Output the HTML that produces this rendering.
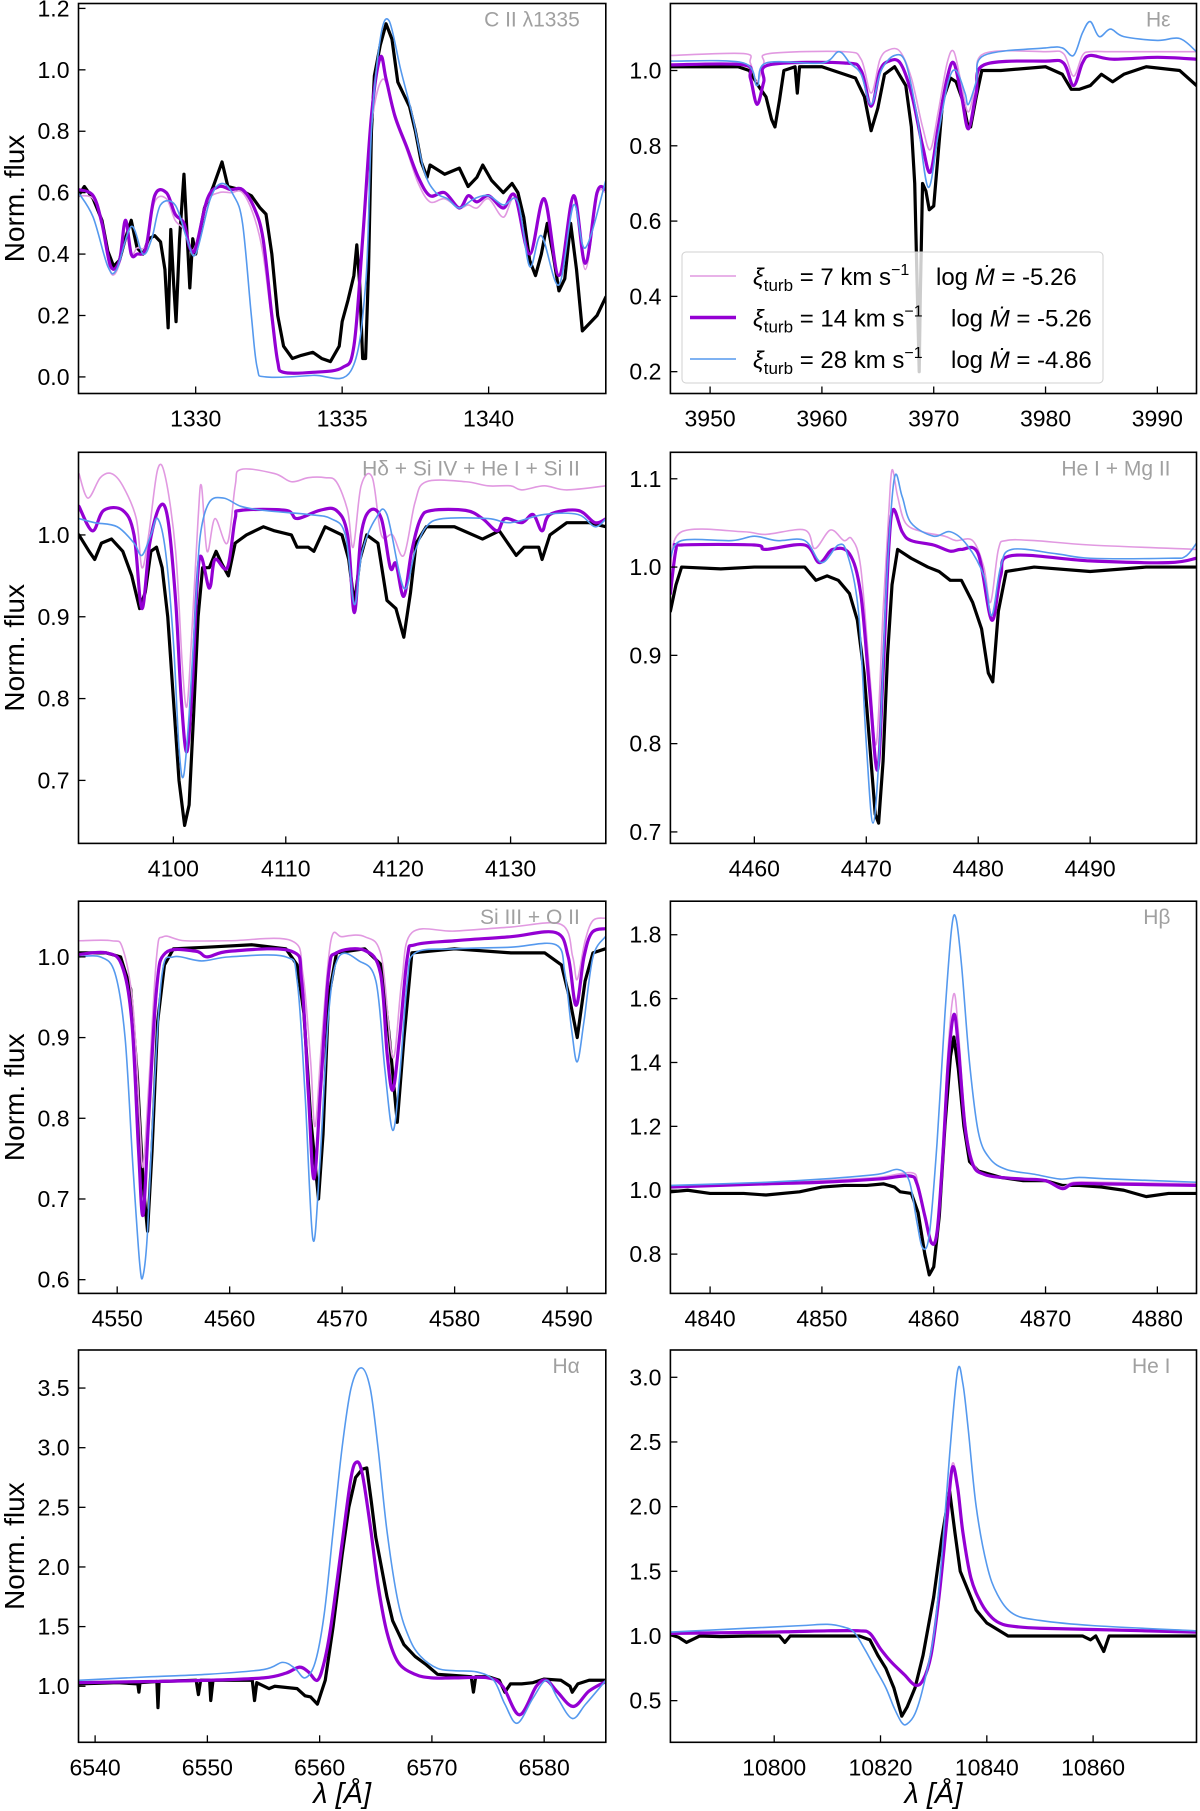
<!DOCTYPE html>
<html><head><meta charset="utf-8">
<style>
html,body{margin:0;padding:0;background:#fff;}
svg{display:block;font-family:"Liberation Sans","DejaVu Sans",sans-serif;}
</style></head>
<body>
<svg id="fig" width="1200" height="1811" viewBox="0 0 1200 1811" xmlns="http://www.w3.org/2000/svg"></svg>
<script>
// ---------- Panel 1: C II 1335 ----------
const ciiTicksX = [1330,1335,1340];
const ciiTicksY = [0.0,0.2,0.4,0.6,0.8,1.0,1.2];
const ciiObs = [[1326.0,0.59],[1326.2,0.62],[1326.5,0.58],[1326.8,0.51],[1327.0,0.41],[1327.2,0.36],[1327.4,0.38],[1327.6,0.45],[1327.8,0.51],[1328.0,0.42],[1328.2,0.40],[1328.4,0.45],[1328.6,0.46],[1328.8,0.44],[1328.95,0.35],[1329.06,0.16],[1329.15,0.48],[1329.25,0.30],[1329.33,0.18],[1329.45,0.45],[1329.6,0.66],[1329.8,0.29],[1329.9,0.45],[1330.0,0.40],[1330.3,0.55],[1330.6,0.62],[1330.9,0.70],[1331.1,0.62],[1331.5,0.61],[1331.9,0.59],[1332.2,0.55],[1332.4,0.53],[1332.6,0.40],[1332.8,0.20],[1333.0,0.10],[1333.3,0.06],[1333.6,0.07],[1334.0,0.08],[1334.3,0.06],[1334.6,0.05],[1334.9,0.10],[1335.0,0.18],[1335.2,0.25],[1335.4,0.33],[1335.5,0.43],[1335.6,0.30],[1335.7,0.06],[1335.8,0.06],[1335.9,0.35],[1336.0,0.80],[1336.1,0.98],[1336.3,1.08],[1336.5,1.15],[1336.7,1.10],[1336.9,0.96],[1337.1,0.92],[1337.3,0.88],[1337.5,0.80],[1337.7,0.70],[1337.9,0.65],[1338.0,0.69],[1338.5,0.66],[1339.0,0.68],[1339.3,0.62],[1339.6,0.65],[1339.8,0.69],[1340.1,0.64],[1340.5,0.60],[1340.8,0.63],[1341.0,0.60],[1341.2,0.52],[1341.4,0.38],[1341.6,0.33],[1341.8,0.40],[1342.0,0.50],[1342.2,0.40],[1342.4,0.28],[1342.6,0.32],[1342.8,0.50],[1343.0,0.35],[1343.2,0.15],[1343.4,0.17],[1343.7,0.20],[1344.0,0.26]];
const ciiPink = [[1326.0,0.59],[1326.5,0.58],[1326.8,0.50],[1327.1,0.34],[1327.4,0.37],[1327.6,0.50],[1327.8,0.40],[1328.0,0.42],[1328.3,0.43],[1328.6,0.57],[1329.0,0.58],[1329.3,0.51],[1329.6,0.48],[1329.8,0.42],[1330.0,0.43],[1330.4,0.57],[1330.8,0.60],[1331.2,0.60],[1331.6,0.60],[1332.0,0.52],[1332.3,0.40],[1332.6,0.18],[1332.8,0.05],[1333.0,0.015],[1334.0,0.015],[1335.0,0.03],[1335.4,0.10],[1335.7,0.45],[1336.0,0.82],[1336.4,0.97],[1336.8,0.84],[1337.2,0.74],[1337.6,0.63],[1338.0,0.57],[1338.5,0.58],[1339.0,0.55],[1339.3,0.56],[1339.6,0.55],[1340.0,0.58],[1340.5,0.52],[1340.9,0.58],[1341.4,0.40],[1341.9,0.58],[1342.4,0.33],[1342.9,0.59],[1343.3,0.35],[1343.7,0.59],[1344.0,0.60]];
const ciiPurple = [[1326.0,0.61],[1326.5,0.59],[1326.8,0.50],[1327.1,0.36],[1327.4,0.38],[1327.6,0.51],[1327.8,0.40],[1328.0,0.40],[1328.3,0.42],[1328.6,0.59],[1329.0,0.60],[1329.3,0.53],[1329.6,0.50],[1329.8,0.42],[1330.0,0.42],[1330.4,0.58],[1330.8,0.62],[1331.2,0.61],[1331.6,0.61],[1332.0,0.55],[1332.3,0.45],[1332.6,0.20],[1332.8,0.05],[1333.0,0.015],[1334.0,0.015],[1335.0,0.03],[1335.4,0.10],[1335.7,0.45],[1336.0,0.85],[1336.3,1.04],[1336.5,0.97],[1336.8,0.85],[1337.2,0.75],[1337.6,0.65],[1338.0,0.59],[1338.5,0.60],[1339.0,0.55],[1339.3,0.59],[1339.6,0.57],[1340.0,0.59],[1340.5,0.55],[1340.9,0.59],[1341.4,0.40],[1341.9,0.58],[1342.4,0.33],[1342.9,0.59],[1343.3,0.37],[1343.7,0.60],[1344.0,0.61]];
const ciiBlue = [[1326.0,0.60],[1326.5,0.52],[1327.0,0.36],[1327.3,0.35],[1327.8,0.49],[1328.2,0.40],[1328.5,0.45],[1328.8,0.56],[1329.3,0.56],[1329.7,0.45],[1330.0,0.40],[1330.5,0.58],[1330.9,0.63],[1331.3,0.59],[1331.6,0.50],[1331.9,0.20],[1332.1,0.03],[1332.4,0.0],[1334.0,0.005],[1335.3,0.02],[1335.8,0.30],[1336.0,0.80],[1336.3,1.10],[1336.6,1.16],[1337.0,1.00],[1337.4,0.85],[1337.8,0.67],[1338.2,0.60],[1338.6,0.58],[1339.0,0.55],[1339.5,0.58],[1340.0,0.59],[1340.5,0.56],[1341.0,0.57],[1341.4,0.36],[1341.8,0.46],[1342.4,0.30],[1342.9,0.56],[1343.3,0.42],[1344.0,0.64]];

// ---------- Panel 2: H epsilon ----------
const heTicksX = [3950,3960,3970,3980,3990];
const heTicksY = [0.2,0.4,0.6,0.8,1.0];
const heObs = [[3946.5,1.01],[3952.5,1.01],[3953.5,1.0],[3954.3,0.96],[3955.0,0.93],[3955.5,0.87],[3955.8,0.85],[3956.2,0.92],[3956.6,1.0],[3957.6,1.01],[3957.8,0.94],[3958.0,1.01],[3960,1.01],[3962,0.99],[3963.0,0.98],[3963.8,0.93],[3964.4,0.84],[3965.0,0.90],[3965.6,0.99],[3966.5,1.01],[3967.5,0.96],[3968.0,0.85],[3968.3,0.70],[3968.5,0.45],[3968.7,0.20],[3968.8,0.40],[3969.0,0.70],[3969.3,0.68],[3969.6,0.63],[3970.0,0.64],[3970.4,0.78],[3970.8,0.92],[3971.5,0.98],[3972.0,0.97],[3972.6,0.92],[3973.0,0.86],[3973.3,0.85],[3973.8,0.93],[3974.3,1.0],[3976,1.0],[3980,1.01],[3981.5,0.99],[3982.3,0.95],[3983.0,0.95],[3984,0.96],[3985,0.99],[3986,0.97],[3987,0.99],[3989,1.01],[3992,1.0],[3993.5,0.96]];
const hePink = [[3946.5,1.04],[3953,1.045],[3953.6,1.02],[3954.2,0.97],[3954.8,1.02],[3955.3,1.045],[3962,1.05],[3963.5,1.03],[3964.4,0.94],[3965.2,1.03],[3966,1.055],[3967,1.05],[3968,0.98],[3969,0.85],[3969.7,0.79],[3970.4,0.89],[3971.2,1.02],[3971.8,1.05],[3972.5,0.96],[3973.1,0.89],[3973.8,0.97],[3974.5,1.045],[3980,1.05],[3981.6,1.045],[3982.5,0.985],[3983.3,1.04],[3984,1.05],[3986,1.05],[3990,1.05],[3993.5,1.05]];
const hePurple = [[3946.5,1.015],[3953,1.015],[3953.6,0.98],[3954.2,0.91],[3954.8,0.97],[3955.3,1.015],[3962,1.02],[3963.5,1.0],[3964.4,0.905],[3965.2,1.0],[3966,1.025],[3967,1.02],[3968,0.94],[3969,0.80],[3969.7,0.73],[3970.4,0.85],[3971.2,0.98],[3971.8,1.02],[3972.5,0.93],[3973.1,0.845],[3973.8,0.94],[3974.5,1.015],[3980,1.025],[3981.6,1.02],[3982.5,0.96],[3983.3,1.02],[3984,1.04],[3986,1.03],[3990,1.035],[3993.5,1.03]];
const heBlue = [[3946.5,1.025],[3953,1.02],[3954.2,0.96],[3955,1.02],[3960,1.02],[3961.5,1.05],[3962.5,1.02],[3963.5,0.99],[3964.4,0.91],[3965.3,1.0],[3966.5,1.04],[3967.5,1.02],[3968.5,0.88],[3969.5,0.69],[3970.4,0.83],[3971.3,0.97],[3972,1.0],[3972.8,0.94],[3973.1,0.91],[3973.8,0.97],[3974.5,1.04],[3980,1.06],[3981.5,1.06],[3982.5,1.04],[3983.3,1.10],[3984.0,1.13],[3984.8,1.09],[3985.8,1.11],[3987,1.09],[3990,1.08],[3992,1.085],[3993.5,1.05]];

// ---------- Panel 3: H delta ----------
const hdTicksX = [4100,4110,4120,4130];
const hdTicksY = [0.7,0.8,0.9,1.0];
const hdObs = [[4091.6,1.0],[4092.5,0.98],[4093.0,0.97],[4093.6,0.99],[4094.5,0.995],[4095.5,0.98],[4096.3,0.95],[4097.0,0.91],[4097.5,0.93],[4098.0,0.98],[4098.5,0.985],[4099.0,0.96],[4099.5,0.90],[4100.0,0.80],[4100.5,0.70],[4101.0,0.645],[4101.4,0.67],[4101.8,0.78],[4102.2,0.90],[4102.6,0.96],[4103.2,0.96],[4103.8,0.98],[4104.3,0.965],[4104.9,0.95],[4105.5,0.99],[4106.5,1.0],[4108,1.01],[4109,1.005],[4110.5,1.0],[4111,0.985],[4112,0.985],[4112.5,0.98],[4113.5,1.01],[4115,1.0],[4115.6,0.97],[4116.1,0.915],[4116.6,0.97],[4117.2,1.0],[4118.2,0.99],[4119,0.92],[4119.8,0.91],[4120.5,0.875],[4121.1,0.93],[4121.6,0.99],[4122.5,1.01],[4125,1.01],[4127.5,0.995],[4129,1.005],[4130.5,0.975],[4131.2,0.985],[4132.5,0.985],[4132.8,0.97],[4133.5,1.0],[4135,1.015],[4137,1.015],[4138.5,1.01]];
const hdPink = [[4091.6,1.075],[4092.4,1.045],[4093.5,1.07],[4094.5,1.075],[4095.5,1.06],[4096.7,1.02],[4097.2,0.96],[4097.8,1.0],[4098.6,1.08],[4099.3,1.07],[4100.2,0.98],[4100.8,0.84],[4101.2,0.79],[4101.6,0.87],[4102.2,1.02],[4102.5,1.06],[4103.0,0.98],[4103.7,1.02],[4104.8,0.99],[4105.5,1.06],[4106.0,1.08],[4109,1.075],[4110.5,1.065],[4112,1.07],[4113.5,1.07],[4114.5,1.065],[4115.5,1.03],[4116.0,0.985],[4116.7,1.06],[4117.7,1.07],[4118.5,1.0],[4119.5,1.0],[4120.5,0.975],[4121.5,1.04],[4122.5,1.065],[4126,1.065],[4128,1.06],[4130,1.06],[4131,1.055],[4133,1.06],[4135,1.055],[4138.5,1.06]];
const hdPurple = [[4091.6,1.035],[4092.8,1.005],[4093.8,1.03],[4095.5,1.03],[4096.5,1.0],[4097.2,0.91],[4097.9,0.99],[4098.8,1.035],[4099.5,1.02],[4100.2,0.92],[4100.7,0.80],[4101.2,0.735],[4101.7,0.82],[4102.3,0.97],[4103.2,0.935],[4103.7,0.97],[4104.8,0.96],[4105.5,1.02],[4106,1.03],[4110,1.03],[4111,1.02],[4113,1.03],[4114.5,1.03],[4115.5,1.0],[4116.1,0.905],[4116.7,1.0],[4117.5,1.03],[4118.5,1.02],[4119.3,0.96],[4119.8,0.965],[4120.5,0.925],[4121.2,0.98],[4122,1.02],[4123,1.03],[4126,1.03],[4127.5,1.02],[4128.8,1.005],[4129.5,1.02],[4131,1.015],[4132,1.025],[4132.8,1.005],[4133.5,1.025],[4136,1.03],[4137.5,1.015],[4138.5,1.02]];
const hdBlue = [[4091.6,1.02],[4093,1.015],[4095,1.01],[4096.5,0.99],[4097.2,0.975],[4098,1.0],[4098.6,1.02],[4099.3,0.98],[4100.0,0.87],[4100.5,0.74],[4100.9,0.705],[4101.4,0.78],[4102.0,0.92],[4102.4,1.0],[4103.2,1.04],[4104.5,1.045],[4106,1.035],[4108,1.03],[4112,1.025],[4114,1.02],[4115.3,1.0],[4116.1,0.915],[4116.8,0.98],[4118,1.02],[4119,1.025],[4120.5,0.935],[4121.5,0.98],[4122.5,1.01],[4124,1.02],[4128,1.02],[4130,1.015],[4133,1.025],[4136,1.025],[4137.5,1.01],[4138.5,1.02]];

// ---------- Panel 4: He I + Mg II ----------
const hmTicksX = [4460,4470,4480,4490];
const hmTicksY = [0.7,0.8,0.9,1.0,1.1];
const hmObs = [[4452.5,0.95],[4453.0,0.98],[4453.5,1.0],[4457,0.998],[4460,1.0],[4462,1.0],[4464.5,1.0],[4465.5,0.985],[4466.5,0.99],[4467.5,0.985],[4468.5,0.97],[4469.2,0.94],[4469.8,0.88],[4470.3,0.80],[4470.8,0.72],[4471.1,0.71],[4471.5,0.78],[4471.9,0.90],[4472.3,0.98],[4472.8,1.02],[4474,1.01],[4475.5,1.0],[4476.5,0.995],[4477.5,0.985],[4478.5,0.985],[4479.5,0.96],[4480.3,0.93],[4480.9,0.88],[4481.3,0.87],[4481.8,0.95],[4482.5,0.995],[4485,1.0],[4490,0.995],[4495,1.0],[4499.5,1.0]];
const hmPink = [[4452.5,1.0],[4453.5,1.04],[4459,1.04],[4461,1.037],[4464.5,1.042],[4465.4,1.021],[4466.8,1.042],[4468.0,1.03],[4468.7,1.032],[4469.5,1.0],[4470.3,0.88],[4470.9,0.80],[4471.5,0.95],[4472.0,1.06],[4472.3,1.11],[4472.8,1.08],[4473.5,1.05],[4475,1.04],[4477,1.035],[4478,1.03],[4479.5,1.03],[4480.5,1.0],[4481.1,0.96],[4481.8,1.02],[4482.5,1.03],[4485,1.03],[4490,1.025],[4499.5,1.02]];
const hmPurple = [[4452.5,0.97],[4453,1.02],[4453.5,1.025],[4460,1.025],[4461,1.02],[4464.5,1.025],[4465.8,1.005],[4467,1.02],[4468.5,1.015],[4469.5,0.97],[4470.3,0.86],[4471.0,0.77],[4471.5,0.88],[4472.0,1.02],[4472.4,1.065],[4473.2,1.04],[4474,1.03],[4476,1.025],[4477.5,1.018],[4478.5,1.02],[4480,1.015],[4481.2,0.94],[4482.0,0.99],[4483,1.013],[4490,1.007],[4497,1.005],[4499.5,1.01]];
const hmBlue = [[4452.5,1.01],[4453.5,1.03],[4458,1.03],[4460,1.035],[4462,1.03],[4464.5,1.03],[4466,1.005],[4467.5,1.025],[4468.3,1.015],[4469.3,0.95],[4470.0,0.80],[4470.6,0.71],[4471.2,0.80],[4471.8,0.98],[4472.5,1.10],[4473.2,1.08],[4474,1.05],[4476,1.035],[4477.5,1.04],[4479,1.025],[4480.5,0.99],[4481.2,0.945],[4482,1.0],[4483,1.02],[4487,1.015],[4490,1.01],[4497,1.01],[4498.5,1.012],[4499.5,1.027]];

// ---------- Panel 5: Si III + O II ----------
const siTicksX = [4550,4560,4570,4580,4590];
const siTicksY = [0.6,0.7,0.8,0.9,1.0];
const siObs = [[4546.6,1.005],[4549,1.005],[4550.3,1.0],[4551.2,0.96],[4551.8,0.85],[4552.3,0.72],[4552.7,0.66],[4553.1,0.76],[4553.6,0.92],[4554.2,0.99],[4555,1.01],[4558,1.012],[4562,1.015],[4565,1.01],[4566,0.99],[4566.6,0.93],[4567.2,0.80],[4567.9,0.70],[4568.3,0.78],[4568.8,0.95],[4569.5,1.005],[4572,1.01],[4573.5,0.99],[4574.2,0.90],[4574.9,0.795],[4575.5,0.90],[4576.2,1.005],[4580,1.01],[4585,1.005],[4588,1.005],[4589.5,0.99],[4590.2,0.95],[4590.9,0.90],[4591.6,0.97],[4592.3,1.005],[4593.4,1.01]];
const siPink = [[4546.6,1.02],[4549.5,1.02],[4550.5,1.01],[4551.4,0.94],[4552.0,0.80],[4552.3,0.74],[4552.8,0.84],[4553.5,1.0],[4554.1,1.025],[4556,1.02],[4560,1.02],[4565.5,1.02],[4566.5,0.98],[4567.2,0.87],[4567.6,0.79],[4568.2,0.90],[4569,1.02],[4570,1.025],[4572,1.025],[4573.5,1.0],[4574.5,0.875],[4575.3,0.97],[4576.2,1.03],[4580,1.032],[4585,1.037],[4589.5,1.04],[4590.5,1.0],[4590.9,0.972],[4591.6,1.02],[4592.3,1.045],[4593.4,1.048]];
const siPurple = [[4546.6,1.003],[4549,1.005],[4550.4,0.99],[4551.3,0.92],[4551.9,0.76],[4552.3,0.68],[4552.8,0.80],[4553.5,0.96],[4554.3,1.005],[4557,1.007],[4558,1.0],[4560,1.007],[4565.5,1.007],[4566.4,0.97],[4567.0,0.83],[4567.5,0.725],[4568.1,0.84],[4568.8,0.98],[4569.5,1.005],[4572,1.008],[4573.4,0.98],[4574.0,0.88],[4574.5,0.835],[4575.1,0.90],[4575.8,1.0],[4576.5,1.015],[4580,1.02],[4585,1.025],[4589,1.03],[4590.1,1.0],[4590.8,0.94],[4591.5,1.0],[4592.2,1.03],[4593.4,1.035]];
const siBlue = [[4546.6,1.0],[4548.5,1.0],[4549.8,0.98],[4550.7,0.90],[4551.4,0.74],[4552.0,0.62],[4552.3,0.605],[4552.7,0.66],[4553.3,0.84],[4554.0,0.98],[4555,1.0],[4557.5,0.995],[4560,1.0],[4565,1.0],[4566,0.97],[4566.7,0.83],[4567.4,0.65],[4568.0,0.74],[4568.8,0.93],[4569.7,1.0],[4571.5,0.995],[4573.0,0.97],[4573.8,0.86],[4574.5,0.785],[4575.1,0.85],[4575.8,0.97],[4576.5,1.005],[4580,1.01],[4585,1.012],[4589,1.015],[4589.8,0.98],[4590.4,0.91],[4590.9,0.87],[4591.5,0.92],[4592.3,1.0],[4593.4,1.025]];

// ---------- Panel 6: H beta ----------
const hbTicksX = [4840,4850,4860,4870,4880];
const hbTicksY = [0.8,1.0,1.2,1.4,1.6,1.8];
const hbObs = [[4836.5,0.995],[4838,1.0],[4840,0.99],[4843,0.99],[4845,0.985],[4848,0.995],[4850,1.01],[4852,1.015],[4854,1.015],[4855.5,1.02],[4856.5,1.01],[4857,0.995],[4858,0.99],[4858.6,0.93],[4859.2,0.80],[4859.6,0.735],[4860.0,0.76],[4860.5,0.92],[4861.0,1.20],[4861.5,1.42],[4861.8,1.48],[4862.2,1.38],[4862.7,1.20],[4863.2,1.09],[4864,1.06],[4866,1.04],[4868,1.03],[4870,1.03],[4871.5,1.015],[4873,1.015],[4875,1.01],[4877,1.0],[4879,0.98],[4881,0.99],[4883.5,0.99]];
const hbPink = [[4836.5,1.01],[4845,1.02],[4850,1.03],[4855,1.04],[4858.0,1.055],[4858.6,1.02],[4859.2,0.92],[4859.8,0.84],[4860.3,0.88],[4860.8,1.12],[4861.3,1.45],[4861.8,1.615],[4862.2,1.50],[4862.8,1.22],[4863.5,1.09],[4864.5,1.05],[4866,1.04],[4868,1.035],[4870,1.03],[4871.5,1.01],[4872.5,1.025],[4875,1.025],[4883.5,1.02]];
const hbPurple = [[4836.5,1.01],[4845,1.02],[4850,1.025],[4855,1.035],[4857.8,1.045],[4858.5,1.02],[4859.2,0.92],[4859.8,0.835],[4860.3,0.87],[4860.8,1.10],[4861.3,1.40],[4861.8,1.55],[4862.2,1.45],[4862.8,1.20],[4863.5,1.08],[4864.5,1.05],[4866,1.04],[4868,1.035],[4870,1.03],[4871.5,1.005],[4872.5,1.02],[4875,1.02],[4883.5,1.015]];
const hbBlue = [[4836.5,1.015],[4845,1.025],[4850,1.035],[4855,1.05],[4856.8,1.065],[4857.8,1.03],[4858.5,0.90],[4859.0,0.82],[4859.6,0.86],[4860.3,1.15],[4861.0,1.55],[4861.6,1.82],[4862.0,1.85],[4862.5,1.70],[4863.2,1.40],[4864,1.18],[4865,1.10],[4866.5,1.065],[4869,1.05],[4871.3,1.035],[4873,1.04],[4876,1.035],[4883.5,1.025]];

// ---------- Panel 7: H alpha ----------
const haTicksX = [6540,6550,6560,6570,6580];
const haTicksY = [1.0,1.5,2.0,2.5,3.0,3.5];
const haObs = [[6538.5,1.02],[6542,1.03],[6543.8,1.02],[6543.9,0.95],[6544.0,1.03],[6545.5,1.04],[6545.6,0.82],[6545.7,1.04],[6549,1.05],[6549.2,0.93],[6549.4,1.05],[6550.2,1.05],[6550.3,0.88],[6550.5,1.05],[6554,1.05],[6554.2,0.88],[6554.4,1.03],[6555.5,0.98],[6556,1.0],[6558,0.98],[6558.7,0.92],[6559.2,0.91],[6559.8,0.85],[6560.5,1.05],[6561.2,1.5],[6562,2.1],[6562.6,2.5],[6563.2,2.75],[6563.8,2.82],[6564.2,2.83],[6564.6,2.55],[6565.0,2.25],[6565.5,2.0],[6566,1.75],[6566.5,1.55],[6567.5,1.35],[6568.5,1.25],[6569.5,1.18],[6570.5,1.10],[6572,1.09],[6573.5,1.08],[6573.7,0.95],[6573.9,1.08],[6575,1.08],[6576,1.05],[6576.5,0.95],[6577,1.02],[6578,1.02],[6579,1.03],[6580,1.06],[6581.5,1.05],[6582.3,1.0],[6582.5,0.95],[6583,1.02],[6584,1.05],[6585.5,1.05]];
const haPink = [[6538.5,1.03],[6545,1.04],[6550,1.05],[6555,1.07],[6557,1.11],[6558.2,1.15],[6559,1.12],[6559.8,1.05],[6560.4,1.2],[6561,1.5],[6562,2.2],[6562.8,2.74],[6563.3,2.87],[6563.8,2.78],[6564.5,2.35],[6565.2,1.85],[6566,1.45],[6567,1.2],[6568.5,1.1],[6570,1.07],[6572,1.07],[6575,1.07],[6576.3,1.0],[6577.8,0.77],[6579.3,1.0],[6580.2,1.05],[6581.2,0.95],[6582.6,0.84],[6584,0.96],[6585.5,1.04]];
const haPurple = [[6538.5,1.03],[6545,1.04],[6550,1.05],[6555,1.07],[6557,1.11],[6558.2,1.16],[6559,1.12],[6559.8,1.05],[6560.4,1.2],[6561,1.5],[6562,2.2],[6562.8,2.75],[6563.3,2.88],[6563.8,2.78],[6564.5,2.35],[6565.2,1.85],[6566,1.45],[6567,1.2],[6568.5,1.1],[6570,1.07],[6572,1.07],[6575,1.07],[6576.3,1.0],[6577.8,0.76],[6579.3,1.0],[6580.2,1.05],[6581.2,0.95],[6582.6,0.83],[6584,0.96],[6585.5,1.04]];
const haBlue = [[6538.5,1.05],[6545,1.08],[6550,1.1],[6555,1.14],[6556.7,1.2],[6557.8,1.15],[6558.7,1.07],[6559.6,1.2],[6560.4,1.6],[6561.2,2.3],[6562,3.0],[6562.8,3.5],[6563.7,3.67],[6564.5,3.5],[6565.2,3.0],[6566,2.3],[6567,1.7],[6568,1.4],[6569,1.25],[6570.5,1.15],[6572,1.13],[6574,1.12],[6575.5,1.05],[6576.5,0.85],[6577.6,0.69],[6579,0.9],[6580.2,1.05],[6581.2,0.9],[6582.5,0.73],[6583.7,0.85],[6585.5,1.05]];

// ---------- Panel 8: He I 10830 ----------
const hiTicksX = [10800,10820,10840,10860];
const hiTicksY = [0.5,1.0,1.5,2.0,2.5,3.0];
const hiObs = [[10780.5,1.01],[10782,0.99],[10783.5,0.95],[10785,0.98],[10786,1.0],[10790,0.995],[10795,1.0],[10801,1.0],[10802,0.95],[10803,1.0],[10810,1.0],[10816,1.0],[10818,0.97],[10819.5,0.85],[10821,0.75],[10822.5,0.60],[10824,0.38],[10825,0.45],[10826.5,0.60],[10828,0.85],[10830,1.3],[10831.5,1.75],[10833,2.12],[10834,1.8],[10835,1.5],[10836.5,1.35],[10838,1.2],[10840,1.1],[10842,1.05],[10844,1.0],[10850,1.0],[10858,1.0],[10859.5,0.97],[10860.5,1.0],[10862,0.88],[10863,1.0],[10870,1.0],[10879.5,1.0]];
const hiPink = [[10780.5,1.02],[10800,1.03],[10810,1.04],[10816,1.04],[10818,1.02],[10820,0.9],[10822,0.8],[10824.5,0.7],[10826.5,0.62],[10828,0.66],[10829.5,0.85],[10831,1.3],[10832.5,1.92],[10833.5,2.33],[10834.5,2.17],[10835.5,1.8],[10837,1.45],[10839,1.25],[10841,1.14],[10843,1.09],[10846,1.07],[10850,1.06],[10860,1.05],[10879.5,1.03]];
const hiPurple = [[10780.5,1.02],[10800,1.03],[10810,1.04],[10816,1.04],[10818,1.02],[10820,0.9],[10822,0.8],[10824.5,0.7],[10826.5,0.62],[10828,0.66],[10829.5,0.85],[10831,1.3],[10832.5,1.9],[10833.5,2.3],[10834.5,2.15],[10835.5,1.8],[10837,1.45],[10839,1.25],[10841,1.14],[10843,1.09],[10846,1.07],[10850,1.06],[10860,1.05],[10879.5,1.03]];
const hiBlue = [[10780.5,1.03],[10795,1.06],[10805,1.08],[10810,1.09],[10813,1.07],[10815,1.03],[10817,0.9],[10819,0.75],[10821,0.6],[10822.5,0.45],[10824,0.33],[10825,0.32],[10826.5,0.4],[10828,0.6],[10830,1.0],[10831.5,1.6],[10833,2.4],[10834.5,3.05],[10835.5,2.95],[10836.5,2.6],[10838,2.0],[10840,1.55],[10842,1.32],[10845,1.17],[10850,1.12],[10860,1.08],[10879.5,1.04]];

// ---------- layout ----------
const NS = 'http://www.w3.org/2000/svg';
const svg = document.getElementById('fig');
const COLX = [[78.5,605.8],[670.4,1196.5]];
const ROWY = [[3.5,393.5],[452.3,843.4],[901.2,1293.4],[1350,1742.3]];
const C_PINK = '#e199e1', C_PURPLE = '#9400d3', C_BLUE = '#5599ee', C_OBS = '#000';

function mk(tag, attrs, parent){
  const e = document.createElementNS(NS, tag);
  for (const k in attrs) e.setAttribute(k, attrs[k]);
  (parent||svg).appendChild(e);
  return e;
}
function linePath(P){
  return P.map((p,i)=>(i?'L':'M')+p[0].toFixed(2)+','+p[1].toFixed(2)).join('');
}
function smoothPath(P){
  let d = 'M'+P[0][0].toFixed(2)+','+P[0][1].toFixed(2);
  for (let i=0;i<P.length-1;i++){
    const p0=P[i-1]||P[i], p1=P[i], p2=P[i+1], p3=P[i+2]||p2;
    const c1x=p1[0]+(p2[0]-p0[0])/6, c1y=p1[1]+(p2[1]-p0[1])/6;
    const c2x=p2[0]-(p3[0]-p1[0])/6, c2y=p2[1]-(p3[1]-p1[1])/6;
    d+='C'+c1x.toFixed(2)+','+c1y.toFixed(2)+' '+c2x.toFixed(2)+','+c2y.toFixed(2)+' '+p2[0].toFixed(2)+','+p2[1].toFixed(2);
  }
  return d;
}

const panels = [
  {id:'c-ii', col:0,row:0, xlim:[1326.0,1344.0], ylim:[-0.054,1.216], tx:ciiTicksX, ty:ciiTicksY, label:'C II λ1335', obs:ciiObs, pink:ciiPink, purple:ciiPurple, blue:ciiBlue},
  {id:'h-epsilon', col:1,row:0, xlim:[3946.45,3993.5], ylim:[0.142,1.178], tx:heTicksX, ty:heTicksY, label:'Hε', obs:heObs, pink:hePink, purple:hePurple, blue:heBlue},
  {id:'h-delta', col:0,row:1, xlim:[4091.56,4138.47], ylim:[0.623,1.101], tx:hdTicksX, ty:hdTicksY, label:'Hδ + Si IV + He I + Si II', obs:hdObs, pink:hdPink, purple:hdPurple, blue:hdBlue},
  {id:'he-i-mg-ii', col:1,row:1, xlim:[4452.5,4499.5], ylim:[0.687,1.130], tx:hmTicksX, ty:hmTicksY, label:'He I + Mg II', obs:hmObs, pink:hmPink, purple:hmPurple, blue:hmBlue},
  {id:'si-iii-o-ii', col:0,row:2, xlim:[4546.56,4593.44], ylim:[0.583,1.069], tx:siTicksX, ty:siTicksY, label:'Si III + O II', obs:siObs, pink:siPink, purple:siPurple, blue:siBlue},
  {id:'h-beta', col:1,row:2, xlim:[4836.45,4883.5], ylim:[0.677,1.905], tx:hbTicksX, ty:hbTicksY, label:'Hβ', obs:hbObs, pink:hbPink, purple:hbPurple, blue:hbBlue},
  {id:'h-alpha', col:0,row:3, xlim:[6538.52,6585.49], ylim:[0.530,3.819], tx:haTicksX, ty:haTicksY, label:'Hα', obs:haObs, pink:haPink, purple:haPurple, blue:haBlue},
  {id:'he-i-10830', col:1,row:3, xlim:[10780.47,10879.45], ylim:[0.178,3.211], tx:hiTicksX, ty:hiTicksY, label:'He I', obs:hiObs, pink:hiPink, purple:hiPurple, blue:hiBlue}
];

panels.forEach((p, idx) => {
  const [x0,x1] = COLX[p.col], [y0,y1] = ROWY[p.row];
  const sx = v => x0 + (v - p.xlim[0]) / (p.xlim[1]-p.xlim[0]) * (x1-x0);
  const sy = v => y1 - (v - p.ylim[0]) / (p.ylim[1]-p.ylim[0]) * (y1-y0);
  const g = mk('g', {});
  
  

  const defs = mk('defs', {}, g);
  const cp = mk('clipPath', {id:'clip'+idx}, defs);
  mk('rect', {x:x0, y:y0, width:x1-x0, height:y1-y0}, cp);

  const series = [['observed', p.obs, C_OBS, 3.2, false], ['model-xi7', p.pink, C_PINK, 1.6, true], ['model-xi14', p.purple, C_PURPLE, 3.2, true], ['model-xi28', p.blue, C_BLUE, 1.6, true]];
  const lg = mk('g', {'clip-path':'url(#clip'+idx+')'}, g);
  series.forEach(([nm, data, col, w, smooth]) => {
    const P = data.map(pt => [sx(pt[0]), sy(pt[1])]);
    const d = smooth ? smoothPath(P) : linePath(P);
    const path = mk('path', {d:d, fill:'none', stroke:col, 'stroke-width':w, 'stroke-linejoin':'round', 'stroke-linecap':'round'}, lg);
    
    
  });

  const fr = mk('rect', {x:x0, y:y0, width:x1-x0, height:y1-y0, fill:'none', stroke:'#000', 'stroke-width':1.6}, g);
  
  

  p.tx.forEach(v => {
    const X = sx(v);
    mk('line', {x1:X, x2:X, y1:y1, y2:y1-7, stroke:'#000', 'stroke-width':1.3}, g);
    const t = mk('text', {x:X, y:y1+33, 'text-anchor':'middle', 'font-size':23, fill:'#000'}, g);
    t.textContent = String(v);
    
    
  });
  p.ty.forEach(v => {
    const Y = sy(v);
    mk('line', {x1:x0, x2:x0+7, y1:Y, y2:Y, stroke:'#000', 'stroke-width':1.3}, g);
    const t = mk('text', {x:x0-9, y:Y+8, 'text-anchor':'end', 'font-size':23, fill:'#000'}, g);
    t.textContent = v.toFixed(1);
    
    
  });
  const a = mk('text', {x:x1-26, y:y0+23, 'text-anchor':'end', 'font-size':21, fill:'#a0a0a0'}, g);
  a.textContent = p.label;
  
  

  if (p.col === 0) {
    const cy = (y0+y1)/2;
    const yl = mk('text', {x:0, y:0, transform:'translate(24,'+cy+') rotate(-90)', 'text-anchor':'middle', 'font-size':28, fill:'#000'}, g);
    yl.textContent = 'Norm. flux';
    
    
  }
  if (p.row === 3) {
    const xl = mk('text', {x:(x0+x1)/2, y:1803, 'text-anchor':'middle', 'font-size':29, fill:'#000', 'font-style':'italic'}, g);
    xl.textContent = 'λ [Å]';
    
    
  }
});

// legend in H epsilon panel
const legendXi = ['7','14','28'];
const legendMdot = ['-5.26','-5.26','-4.86'];
const legendStyle = [[C_PINK,1.6],[C_PURPLE,3.5],[C_BLUE,1.6]];
const lgd = mk('g', {});


mk('rect', {x:682, y:252, width:421, height:131, rx:4, fill:'#fff', 'fill-opacity':0.8, stroke:'#d0d0d0', 'stroke-width':1}, lgd);
legendXi.forEach((xi, i) => {
  const y = 276 + i*41.5;
  const e = mk('g', {}, lgd);
  
  
  mk('line', {x1:690, x2:736, y1:y, y2:y, stroke:legendStyle[i][0], 'stroke-width':legendStyle[i][1]}, e);
  const t = mk('text', {x:753, y:y+9, 'font-size':24, fill:'#000'}, e);
  t.innerHTML = '<tspan font-style="italic">ξ</tspan><tspan font-size="17" dy="6">turb</tspan><tspan dy="-6"> = ' + xi + ' km s</tspan><tspan font-size="16" dy="-10">−1</tspan>';
  const t2 = mk('text', {x:(i===0?936:951), y:y+9, 'font-size':24, fill:'#000'}, e);
  t2.innerHTML = 'log <tspan font-style="italic">Ṁ</tspan> = ' + legendMdot[i];
});
</script>
</body></html>
